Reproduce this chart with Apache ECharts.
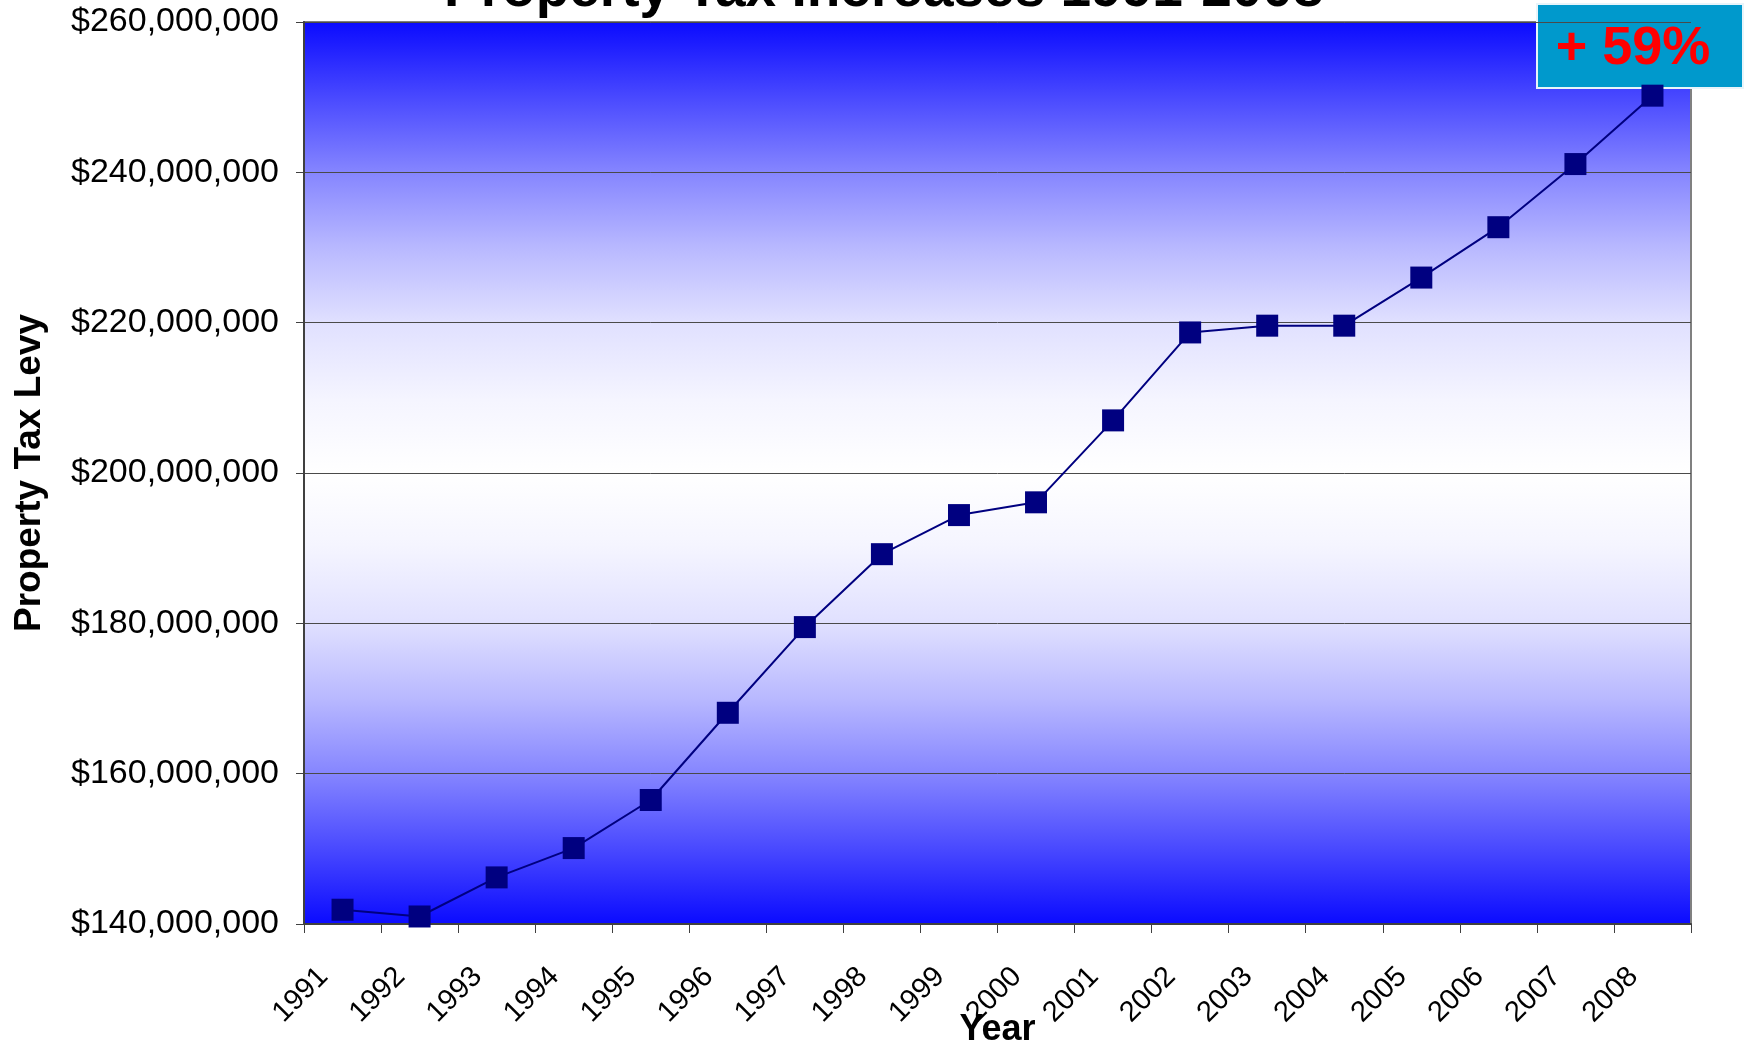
<!DOCTYPE html>
<html>
<head>
<meta charset="utf-8">
<title>Property Tax Increases 1991-2008</title>
<script src="https://cdn.jsdelivr.net/npm/echarts@6/dist/echarts.min.js"></script>
<style>
    html, body { margin: 0; padding: 0; background: #fff; }
    #main { width: 1749px; height: 1047px; }
</style>
</head>
<body>
<div id="main"></div>
<script>
// data
var years = ['1991', '1992', '1993', '1994', '1995', '1996', '1997', '1998', '1999',
             '2000', '2001', '2002', '2003', '2004', '2005', '2006', '2007', '2008'];
var levy = [141900000, 141000000, 146200000, 150100000, 156500000, 168100000, 179500000,
            189200000, 194400000, 196100000, 207000000, 218700000, 219600000, 219600000,
            226000000, 232700000, 241100000, 250200000];
var yMin = 140000000;
var yMax = 260000000;
var yStep = 20000000;
var increaseLabel = '+ 59%';

var font = "'Liberation Sans', Arial, sans-serif";

function money(v) {
    return '$' + String(v).replace(/\B(?=(\d{3})+(?!\d))/g, ',');
}

var myChart = echarts.init(document.getElementById('main'));
var option = {
    animation: false,
    backgroundColor: '#ffffff',
    title: {
        text: 'Property Tax Increases 1991-2008',
        left: 444,
        top: -37,
        padding: 0,
        textStyle: {
            fontFamily: font,
            fontSize: 55,
            fontWeight: 'bold',
            color: '#000'
        }
    },
    grid: {
        left: 304,
        right: 58,
        top: 22,
        bottom: 123,
        containLabel: false,
        outerBoundsMode: 'none',
        show: true,
        borderColor: '#808080',
        borderWidth: 2,
        // blue -> white -> blue band like the excel fill
        backgroundColor: {
            type: 'linear', x: 0, y: 0, x2: 0, y2: 1,
            colorStops: [
                {offset: 0, color: '#0a0aff'},
                {offset: 0.083, color: '#4848ff'},
                {offset: 0.167, color: '#8585ff'},
                {offset: 0.25, color: '#b8b8ff'},
                {offset: 0.333, color: '#e0e0ff'},
                {offset: 0.42, color: '#f5f5ff'},
                {offset: 0.5, color: '#ffffff'},
                {offset: 0.58, color: '#f5f5ff'},
                {offset: 0.667, color: '#e0e0ff'},
                {offset: 0.75, color: '#b8b8ff'},
                {offset: 0.833, color: '#8585ff'},
                {offset: 0.917, color: '#4848ff'},
                {offset: 1, color: '#0a0aff'}
            ]
        }
    },
    xAxis: {
        type: 'category',
        data: years,
        boundaryGap: true,
        name: 'Year',
        nameLocation: 'middle',
        nameGap: 88,
        nameMoveOverlap: false,
        nameTextStyle: {
            fontFamily: font,
            fontSize: 36,
            fontWeight: 'bold',
            color: '#000'
        },
        axisLine: {lineStyle: {color: '#404040', width: 2}},
        axisTick: {show: true, length: 9, lineStyle: {color: '#404040', width: 1}},
        axisLabel: {
            interval: 0,
            rotate: 45,
            margin: 29,
            padding: [0, 27, 0, 0],
            fontFamily: font,
            fontSize: 29,
            color: '#000'
        },
        splitLine: {show: false}
    },
    yAxis: {
        type: 'value',
        min: yMin,
        max: yMax,
        interval: yStep,
        name: 'Property Tax Levy',
        nameLocation: 'middle',
        nameGap: 256,
        nameRotate: 90,
        nameTextStyle: {
            fontFamily: font,
            fontSize: 37,
            fontWeight: 'bold',
            color: '#000'
        },
        axisLine: {show: true, lineStyle: {color: '#404040', width: 2}},
        axisTick: {show: true, length: 8, lineStyle: {color: '#404040', width: 1}},
        axisLabel: {
            margin: 25,
            fontFamily: font,
            fontSize: 34,
            color: '#000',
            formatter: money
        },
        splitLine: {lineStyle: {color: '#4a4a4a', width: 1}}
    },
    series: [
        {
            name: 'Property Tax Levy',
            type: 'line',
            data: levy,
            symbol: 'rect',
            symbolSize: 22,
            itemStyle: {color: '#000080'},
            lineStyle: {color: '#000080', width: 2}
        }
    ],
    graphic: [
        {
            type: 'group',
            left: 1536,
            top: 3,
            children: [
                {
                    type: 'rect',
                    shape: {x: 0, y: 0, width: 206, height: 84},
                    style: {fill: '#0099cc', stroke: '#e8f4fa', lineWidth: 2}
                },
                {
                    type: 'text',
                    x: 96,
                    y: 45,
                    style: {
                        text: increaseLabel,
                        fill: '#ff0000',
                        font: 'bold 54px ' + font,
                        textAlign: 'center',
                        textVerticalAlign: 'middle'
                    }
                }
            ]
        }
    ]
};
myChart.setOption(option);
</script>
</body>
</html>
